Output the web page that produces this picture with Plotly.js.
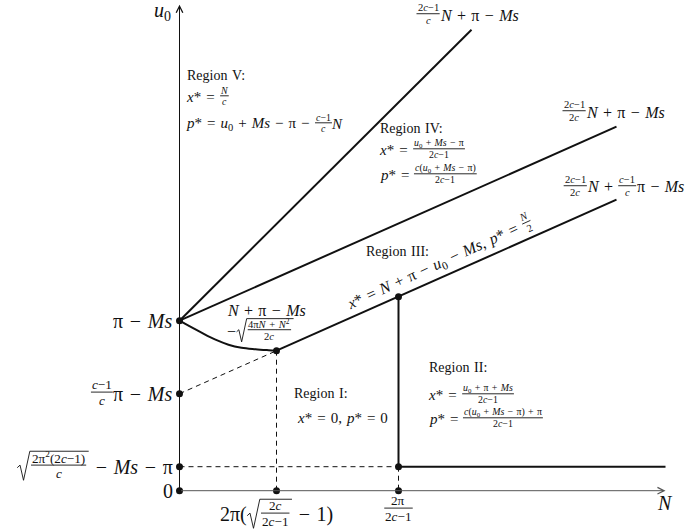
<!DOCTYPE html>
<html>
<head>
<meta charset="utf-8">
<script src="https://cdn.plot.ly/plotly-3.0.1.min.js"></script>
<style>
  html, body { margin: 0; padding: 0; background: #fff; }
  #chart { width: 685px; height: 532px; }
  #meter { position: absolute; left: -9999px; top: 0; visibility: hidden; white-space: pre; font-family: "Liberation Serif"; }
  #meter sub, #meter sup { font-size: 70%; line-height: 0; }
</style>
</head>
<body>
<div id="chart"></div>
<span id="meter"></span>
<script>
"use strict";

const W = 685, H = 532;
const FONT = 'Liberation Serif';
const INK = '#111';

// axis ranges, one data unit is ten pixels
const X_RANGE = [-17.95, 50.55];
const Y_RANGE = [-4.13, 49.07];

// marked values on the axes
const yKeyVals = [0, 2.4, 9.7, 17.0];
const xKeyVals = [9.7, 21.9];
const axisEnd = 48.6;

// region boundaries
const steepX = [0, 29.2], steepY = [17.0, 46.1];
const midX = [0, 43.7], midY = [17.0, 36.4];
const lowX = [9.7, 43.7], lowY = [14.0, 29.1];
const extX = [0, 9.7], extY = [9.7, 14.0];
const curveX = [0, 0.9, 2.2, 3.6, 4.9, 6.2, 7.6, 8.9, 9.7];
const curveY = [17.0, 16.5, 15.8, 15.1, 14.6, 14.3, 14.15, 14.05, 14.0];
const wallX = [21.9, 21.9], wallY = [19.4, 2.4];
const floorX = [21.9, 48.6], floorY = [2.4, 2.4];

// tick labels ({f:[num, den]} is a fraction, {r:[...]} a square root)
const yTickLabels = [
  ['0'],
  [{r: [{f: ['2π<sup>2</sup>(2<i>c</i>−1)', '<i>c</i>']}]}, ' − <i>Ms</i> − π'],
  [{f: ['<i>c</i>−1', '<i>c</i>']}, 'π − <i>Ms</i>'],
  ['π − <i>Ms</i>']
];
const xTickLabels = [
  ['2π(', {r: [{f: ['2<i>c</i>', '2<i>c</i>−1']}]}, ' − 1)'],
  [{f: ['2π', '2<i>c</i>−1']}]
];

const meter = document.getElementById('meter');
// wider spaces, closer to the TeX look around operators
function nb(s) { return s.replace(/ /g, '\u2004'); }
function textW(html, size) {
  meter.style.fontSize = size + 'px';
  meter.innerHTML = nb(html);
  return meter.getBoundingClientRect().width;
}

const FR = 0.66;   // fraction text scale
const BAR = -0.08; // fraction bar offset from text middle (em)
const RAD = 0.7;   // radical width (em)

function partW(p, size) {
  if (typeof p === 'string') return textW(p, size);
  if (p.f) {
    const s = size * FR;
    return Math.max(textW(p.f[0], s), textW(p.f[1], s)) + 3;
  }
  return RAD * size + rowW(p.r, size) + 2;
}
function rowW(parts, size) { return parts.reduce((w, p) => w + partW(p, size), 0); }

const annotations = [], shapes = [];

function place(fr, lx, ly) {
  const a = fr.ang * Math.PI / 180;
  return [fr.ox + lx * Math.cos(a) + ly * Math.sin(a), fr.oy - lx * Math.sin(a) + ly * Math.cos(a)];
}
function paper(p) { return [p[0] / W, 1 - p[1] / H]; }

function putText(html, lx, ly, size, fr) {
  const q = paper(place(fr, lx, ly));
  annotations.push({
    xref: 'paper', yref: 'paper', x: q[0], y: q[1],
    xanchor: 'center', yanchor: 'middle', showarrow: false,
    text: nb(html), textangle: -fr.ang, borderpad: 0,
    font: {family: FONT, size: size, color: INK}
  });
}
function putPath(pts, fr) {
  const d = pts.map((p, i) => {
    const q = paper(place(fr, p[0], p[1]));
    return (i ? 'L' : 'M') + q[0].toFixed(5) + ',' + q[1].toFixed(5);
  }).join(' ');
  shapes.push({type: 'path', xref: 'paper', yref: 'paper', path: d, line: {color: INK, width: 0.9}});
}

function drawRow(parts, lx, size, fr) {
  parts.forEach(p => {
    const w = partW(p, size);
    const s = size * FR, b = BAR * size;
    if (typeof p === 'string') {
      putText(p, lx + w / 2, 0, size, fr);
    } else if (p.f) {
      putPath([[lx + 0.5, b], [lx + w - 0.5, b]], fr);
      putText(p.f[0], lx + w / 2, b - 0.56 * s, s, fr);
      putText(p.f[1], lx + w / 2, b + 0.62 * s, s, fr);
    } else {
      const r = RAD * size, top = b - 1.05 * s, bot = b + 1.15 * s;
      putPath([[lx + 0.05 * r, b + 0.2 * s], [lx + 0.25 * r, b], [lx + 0.5 * r, bot],
               [lx + 0.95 * r, top], [lx + w, top]], fr);
      drawRow(p.r, lx + r, size, fr);
    }
    lx += w;
  });
}

// x, y: pixel anchor; align: left / center / right
function label(parts, x, y, size, align, ang) {
  if (typeof parts === 'string') parts = [parts];
  ang = ang || 0;
  const w = rowW(parts, size);
  const shift = align === 'right' ? w : align === 'center' ? w / 2 : 0;
  const a = ang * Math.PI / 180;
  drawRow(parts, 0, size, {ox: x - shift * Math.cos(a), oy: y + shift * Math.sin(a), ang: ang});
}

function toPx(xv, yv) {
  return [(xv - X_RANGE[0]) / (X_RANGE[1] - X_RANGE[0]) * W,
          H - (yv - Y_RANGE[0]) / (Y_RANGE[1] - Y_RANGE[0]) * H];
}

// axis labels
yKeyVals.forEach((v, i) => {
  const p = toPx(0, v);
  label(yTickLabels[i], p[0] - 7, p[1], 20, 'right');
});
xKeyVals.forEach((v, i) => {
  const p = toPx(v, 0);
  label(xTickLabels[i], p[0], p[1] + (i ? 19 : 24), 20, 'center');
});
label('<i>N</i>', 665, 503, 20, 'center');
label('<i>u</i><sub>0</sub>', 162, 12, 20, 'center');

// line labels
label([{f: ['2<i>c</i>−1', '<i>c</i>']}, '<i>N</i> + π − <i>Ms</i>'], 416, 15, 16, 'left');
label([{f: ['2<i>c</i>−1', '2<i>c</i>']}, '<i>N</i> + π − <i>Ms</i>'], 562, 112, 16, 'left');
label([{f: ['2<i>c</i>−1', '2<i>c</i>']}, '<i>N</i> + ', {f: ['<i>c</i>−1', '<i>c</i>']}, 'π − <i>Ms</i>'], 684, 187, 16, 'right');
label('<i>N</i> + π − <i>Ms</i>', 266, 310, 16, 'center');
label(['−', {r: [{f: ['4π<i>N</i> + <i>N</i><sup>2</sup>', '2<i>c</i>']}]}], 227, 331, 16, 'left');

// regions
const HEAD = 14;
label('Region V:', 187, 76, HEAD, 'left');
label(['<i>x</i>* = ', {f: ['<i>N</i>', '<i>c</i>']}], 187, 97, 15, 'left');
label(['<i>p</i>* = <i>u</i><sub>0</sub> + <i>Ms</i> − π − ', {f: ['<i>c</i>−1', '<i>c</i>']}, '<i>N</i>'], 187, 124, 15, 'left');

label('Region IV:', 380, 129, HEAD, 'left');
label(['<i>x</i>* = ', {f: ['<i>u</i><sub>0</sub> + <i>Ms</i> − π', '2<i>c</i>−1']}], 380, 150, 15, 'left');
label(['<i>p</i>* = ', {f: ['<i>c</i>(<i>u</i><sub>0</sub> + <i>Ms</i> − π)', '2<i>c</i>−1']}], 380, 175, 15, 'left');

label('Region III:', 366, 252, HEAD, 'left');
label(['<i>x</i>* = <i>N</i> + π − <i>u</i><sub>0</sub> − <i>Ms</i>, <i>p</i>* = ', {f: ['<i>N</i>', '2']}],
      440, 263, 16, 'center', 24.5);

label('Region I:', 294, 393, HEAD, 'left');
label('<i>x</i>* = 0, <i>p</i>* = 0', 298, 418, 15, 'left');

label('Region II:', 429, 367, HEAD, 'left');
label(['<i>x</i>* = ', {f: ['<i>u</i><sub>0</sub> + π + <i>Ms</i>', '2<i>c</i>−1']}], 429, 395, 15, 'left');
label(['<i>p</i>* = ', {f: ['<i>c</i>(<i>u</i><sub>0</sub> + <i>Ms</i> − π) + π', '2<i>c</i>−1']}], 429, 419, 15, 'left');

// axes with arrow heads
annotations.push({
  x: axisEnd, y: 0, ax: 0, ay: 0, xref: 'x', yref: 'y', axref: 'x', ayref: 'y',
  showarrow: true, arrowhead: 5, arrowsize: 1.3, arrowwidth: 1, arrowcolor: '#555', text: ''
});
annotations.push({
  x: 0, y: axisEnd, ax: 0, ay: 0, xref: 'x', yref: 'y', axref: 'x', ayref: 'y',
  showarrow: true, arrowhead: 5, arrowsize: 1.3, arrowwidth: 1, arrowcolor: INK, text: ''
});

const solid = {color: INK, width: 2};
const dashed = {color: INK, width: 1, dash: '5px,4px'};
function seg(x, y, line) {
  return {x: x, y: y, mode: 'lines', line: line, hoverinfo: 'skip', showlegend: false};
}

const dotX = yKeyVals.map(() => 0).concat(xKeyVals, [lowX[0], wallX[0], wallX[1]]);
const dotY = yKeyVals.concat(xKeyVals.map(() => 0), [lowY[0], wallY[0], wallY[1]]);

const traces = [
  seg([xKeyVals[0], xKeyVals[0]], [lowY[0], 0], dashed),
  seg([0, xKeyVals[1]], [yKeyVals[1], yKeyVals[1]], dashed),
  seg([xKeyVals[1], xKeyVals[1]], [yKeyVals[1], 0], dashed),
  seg(extX, extY, dashed),
  seg(steepX, steepY, solid),
  seg(midX, midY, solid),
  seg(lowX, lowY, solid),
  seg(curveX, curveY, Object.assign({shape: 'spline'}, solid)),
  seg(wallX, wallY, solid),
  seg(floorX, floorY, solid),
  {x: dotX, y: dotY, mode: 'markers', marker: {color: INK, size: 7}, hoverinfo: 'skip', showlegend: false}
];

const layout = {
  width: W, height: H,
  margin: {l: 0, r: 0, t: 0, b: 0},
  paper_bgcolor: '#fff', plot_bgcolor: '#fff',
  xaxis: {range: X_RANGE, visible: false, fixedrange: true},
  yaxis: {range: Y_RANGE, visible: false, fixedrange: true},
  showlegend: false,
  annotations: annotations,
  shapes: shapes
};

Plotly.newPlot('chart', traces, layout, {staticPlot: true});
</script>
</body>
</html>
